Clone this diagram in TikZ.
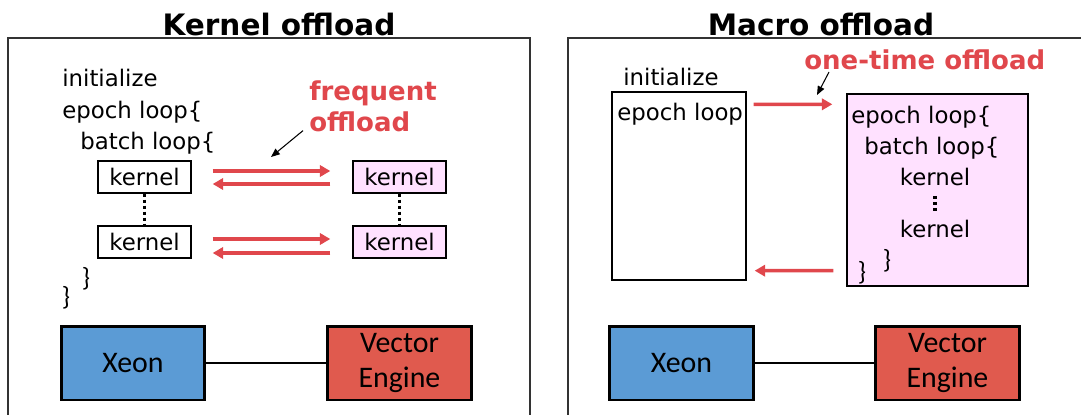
\documentclass[tikz,border=0pt]{standalone}
\usepackage{fontspec}
\setmainfont{DejaVu Sans}
\newfontfamily\calib{Carlito}
\usetikzlibrary{positioning, arrows.meta, calc}
\definecolor{offred}{HTML}{E0474C}
\definecolor{vepink}{HTML}{FFE1FF}
\definecolor{xeonblue}{HTML}{5B9BD5}
\definecolor{vered}{HTML}{E05A4E}
\definecolor{framegray}{HTML}{333333}

\tikzset{
  code/.style={anchor=base west, inner sep=0pt, font=\fontsize{13}{15}\selectfont},
  kbox/.style={draw=black, line width=0.8pt, minimum width=1.86cm, minimum height=0.64cm,
    inner sep=0pt, font=\fontsize{13}{15}\selectfont},
  hwbox/.style={draw=black, line width=1.7pt, minimum width=2.88cm, minimum height=1.48cm,
    align=center, font=\calib\fontsize{17}{20}\selectfont},
  headline/.style={anchor=base, font=\bfseries\fontsize{16.8}{18}\selectfont},
  hint/.style={text=offred, inner sep=0pt, font=\bfseries\fontsize{14.8}{18.1}\selectfont},
  brace/.style={inner sep=0pt, font=\calib\fontsize{15}{17}\selectfont},
  offarrow/.style={offred, line width=2pt, -{Triangle[length=6pt,width=6.5pt]}},
  pointer/.style={black, line width=0.6pt, -{Triangle[length=5pt,width=4pt]}},
  vdots/.style={line width=1.8pt, dash pattern=on 1.7pt off 1.7pt}
}

\begin{document}
\begin{tikzpicture}[x=0.02cm, y=-0.02cm]
    \useasboundingbox (0,0) rectangle (1081,415);
    % frames, open at the bottom
    \draw[framegray, line width=0.9pt] (8,416) -- (8,38) -- (530,38) -- (530,416);
    \draw[framegray, line width=0.9pt] (568,416) -- (568,38) -- (1082,38);
    \node[headline] (tkern) at (279,36) {Kernel offload};
    \node[headline] (tmacro) at (821,36) {Macro offload};

    % left: kernel offload
    \node[code] (initA) at (62,87) {initialize};
    \node[code] (epochA) at (62,119) {epoch loop\{};
    \node[code] (batchA) at (80,150) {batch loop\{};
    \node[kbox] (kA1) at (144.5,177) {kernel};
    \node[kbox] (kA2) at (144.5,242) {kernel};
    \node[kbox, fill=vepink] (kB1) at (399.5,177) {kernel};
    \node[kbox, fill=vepink] (kB2) at (399.5,242) {kernel};
    \draw[vdots] (kA1) -- (kA2);
    \draw[vdots] (kB1) -- (kB2);
    \draw[offarrow] ($(kA1.east)+(21,-6)$) -- ($(kB1.west)+(-22,-6)$);
    \draw[offarrow] ($(kB1.west)+(-22,7)$) -- ($(kA1.east)+(21,7)$);
    \draw[offarrow] ($(kA2.east)+(21,-3)$) -- ($(kB2.west)+(-22,-3)$);
    \draw[offarrow] ($(kB2.west)+(-22,11)$) -- ($(kA2.east)+(21,11)$);
    \node[brace] (endbA) at (86,279) {\}};
    \node[brace] (endeA) at (66,298) {\}};
    \node[hint, anchor=north west, align=left] (freq) at (309,80) {frequent\\offload};
    \coordinate (freqtip) at (271,157);
    \draw[pointer] ($(freq.south west)+(-6,-2)$) -- (freqtip);

    % right: macro offload
    \node[code] (initB) at (623,86) {initialize};
    \node[draw=black, line width=0.8pt, minimum width=2.68cm, minimum height=3.76cm] (host) at (679,186) {};
    \node[code] (epochB) at (617,121) {epoch loop};
    \node[draw=black, fill=vepink, line width=0.8pt, minimum width=3.62cm, minimum height=3.84cm] (dev) at (937.5,190) {};
    \node[code] (epochC) at (851,124) {epoch loop\{};
    \node[code] (batchC) at (864,155) {batch loop\{};
    \node[code, anchor=base] (kC1) at (935,186) {kernel};
    \node[code, anchor=base] (kC2) at (935,237) {kernel};
    \draw[vdots] ($(kC1.base)+(0,10)$) -- ($(kC2.base)+(0,-24)$);
    \node[brace] (endbC) at (887,261) {\}};
    \node[brace] (endeC) at (862,273) {\}};
    \draw[offarrow] ($(host.north east)+(7,13)$) -- ($(dev.north west)+(-14,11)$);
    \draw[offarrow] ($(dev.south west)+(-13,-16)$) -- ($(host.south east)+(8,-10)$);
    \node[hint, anchor=base west] (once) at (804,70) {one-time offload};
    \coordinate (oncetip) at (817,95);
    \draw[pointer] ($(once.base west)+(25,2)$) -- (oncetip);

    % hardware
    \node[hwbox, fill=xeonblue] (xeonA) at (133,363) {Xeon};
    \node[hwbox, fill=vered] (veA) at (399.5,363) {Vector\\Engine};
    \draw[line width=0.9pt] (xeonA) -- (veA);
    \node[hwbox, fill=xeonblue] (xeonB) at (681.5,363) {Xeon};
    \node[hwbox, fill=vered] (veB) at (947.5,363) {Vector\\Engine};
    \draw[line width=0.9pt] (xeonB) -- (veB);
  \end{tikzpicture}
\end{document}
